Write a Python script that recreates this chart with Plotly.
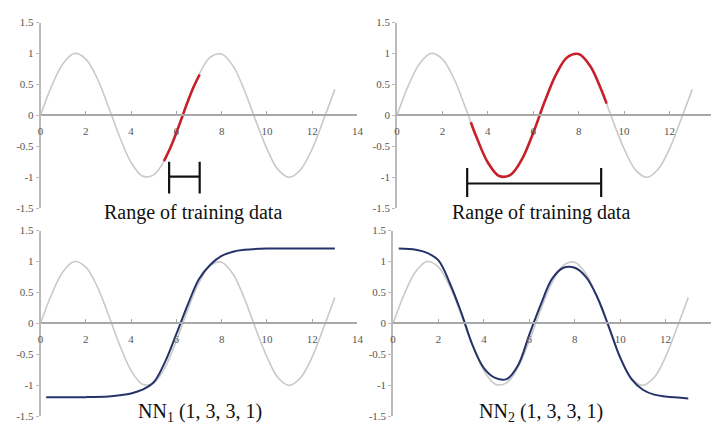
import plotly.graph_objects as go

# Target function y = sin(x), sampled every 0.5 on [0, 13]
sine_x = [0, 0.5, 1, 1.5, 2, 2.5, 3, 3.5, 4, 4.5, 5, 5.5, 6, 6.5, 7, 7.5, 8,
          8.5, 9, 9.5, 10, 10.5, 11, 11.5, 12, 12.5, 13]
sine_y = [0.00, 0.48, 0.84, 1.00, 0.91, 0.60, 0.14, -0.35, -0.76, -0.98, -0.96,
          -0.71, -0.28, 0.22, 0.66, 0.94, 0.99, 0.80, 0.41, -0.08, -0.54, -0.88,
          -1.00, -0.87, -0.54, -0.07, 0.42]

# Training samples (narrow and wide ranges)
train1_x = [5.45, 5.75, 6.0, 6.25, 6.5, 6.75, 7.03]
train1_y = [-0.74, -0.51, -0.28, -0.03, 0.22, 0.45, 0.66]
train2_x = [3.25, 3.5, 4, 4.5, 5, 5.5, 6, 6.5, 7, 7.5, 8, 8.5, 9, 9.23]
train2_y = [-0.11, -0.35, -0.76, -0.98, -0.96, -0.71, -0.28, 0.22, 0.66, 0.94,
            0.99, 0.80, 0.41, 0.19]

# Range bars: [start, end], bar level, tick top, tick bottom
range1 = [5.68, 7.03]
range1_level = [-0.99, -0.75, -1.26]
range2 = [3.09, 8.99]
range2_level = [-1.10, -0.85, -1.32]

# Network outputs
nn1_x = [0.25, 1, 2, 3, 3.5, 4, 4.5, 5, 5.5, 6, 6.5, 7, 7.5, 8, 8.5, 9, 10, 11, 12, 13]
nn1_y = [-1.19, -1.19, -1.19, -1.18, -1.16, -1.13, -1.07, -0.95, -0.62, -0.17,
         0.30, 0.72, 0.95, 1.09, 1.16, 1.19, 1.21, 1.21, 1.21, 1.21]
nn2_x = [0.25, 1, 1.5, 2, 2.5, 3, 3.5, 4, 4.5, 5, 5.5, 6, 6.5, 7, 7.5, 8, 8.5,
         9, 9.5, 10, 10.5, 11, 11.5, 12, 13]
nn2_y = [1.21, 1.19, 1.14, 1.02, 0.65, 0.18, -0.35, -0.72, -0.88, -0.90, -0.68,
         -0.18, 0.30, 0.72, 0.90, 0.90, 0.75, 0.42, -0.05, -0.55, -0.90, -1.07,
         -1.15, -1.18, -1.21]

x_ticks = [0, 2, 4, 6, 8, 10, 12, 14]
y_ticks = [-1.5, -1, -0.5, 0, 0.5, 1, 1.5]
y_tick_text = ["-1.5", "-1", "-0.5", "0", "0.5", "1", "1.5"]

W, H = 717, 434
GRAY = "#c9c9c9"
AXIS = "#a8a8a8"
RED = "#c8202a"
BLUE = "#26336a"
SERIF = "Liberation Serif"
TICK_FONT = dict(family=SERIF, size=11, color="#555555")

# panel pixel boxes: (left, right, top, bottom, x max shown)
panels = [
    (38, 359, 17, 208, 14.0),
    (399, 717, 17, 208, 14.0 * (717 - 399) / 322),
    (38, 359, 231, 422, 14.0),
    (395, 717, 231, 422, 14.0),
]

fig = go.Figure()
layout = {}
for i, (l, r, t, b, xmax) in enumerate(panels, start=1):
    sx = "" if i == 1 else str(i)
    y0, y1 = 1 - b / H, 1 - t / H
    layout["xaxis" + sx] = dict(
        domain=[l / W, r / W], range=[0, xmax], anchor="free",
        position=(y0 + y1) / 2, showline=True, linecolor=AXIS, linewidth=2,
        showgrid=False, zeroline=False, tickvals=x_ticks, ticks="inside",
        ticklen=3, tickcolor=AXIS, ticklabelstandoff=5, tickfont=TICK_FONT,
    )
    layout["yaxis" + sx] = dict(
        domain=[y0, y1], range=[-1.5, 1.5], anchor="x" + sx, showline=True,
        linecolor="#bbbbbb", linewidth=1.5, showgrid=False, zeroline=False,
        tickvals=y_ticks, ticktext=y_tick_text, ticks="outside", ticklen=3,
        tickcolor="#bbbbbb", tickfont=TICK_FONT,
    )
    fig.add_trace(go.Scatter(
        x=sine_x, y=sine_y, mode="lines", line=dict(color=GRAY, width=1.6, shape="spline"),
        xaxis="x" + sx, yaxis="y" + sx, hoverinfo="skip"))


def add_red(xs, ys, n):
    fig.add_trace(go.Scatter(x=xs, y=ys, mode="lines",
                             line=dict(color=RED, width=2.6, shape="spline"),
                             xaxis="x" + n, yaxis="y" + n))


def add_blue(xs, ys, n):
    fig.add_trace(go.Scatter(x=xs, y=ys, mode="lines",
                             line=dict(color=BLUE, width=2.0, shape="spline"),
                             xaxis="x" + n, yaxis="y" + n))


def add_range_bar(rng, lev, n):
    a, b = rng
    mid, top, bot = lev
    fig.add_trace(go.Scatter(
        x=[a, b, None, a, a, None, b, b],
        y=[mid, mid, None, top, bot, None, top, bot],
        mode="lines", line=dict(color="#111111", width=2.2),
        xaxis="x" + n, yaxis="y" + n))


add_red(train1_x, train1_y, "")
add_range_bar(range1, range1_level, "")
add_red(train2_x, train2_y, "2")
add_range_bar(range2, range2_level, "2")
add_blue(nn1_x, nn1_y, "3")
add_blue(nn2_x, nn2_y, "4")

labels = [
    ("Range of training data", 192, 212),
    ("Range of training data", 545, 212),
    ("NN<sub>1</sub> (1, 3, 3, 1)", 199, 418),
    ("NN<sub>2</sub> (1, 3, 3, 1)", 545, 418),
]
annotations = [
    dict(text=txt, x=px / W, y=1 - py / H, xref="paper", yref="paper",
         xanchor="center", yanchor="middle", showarrow=False,
         font=dict(family=SERIF, size=20, color="#111111"))
    for txt, px, py in labels
]

fig.update_layout(
    width=W, height=H, margin=dict(l=0, r=0, t=0, b=0),
    paper_bgcolor="white", plot_bgcolor="white", showlegend=False,
    annotations=annotations, **layout,
)

fig.write_html("out.html")
